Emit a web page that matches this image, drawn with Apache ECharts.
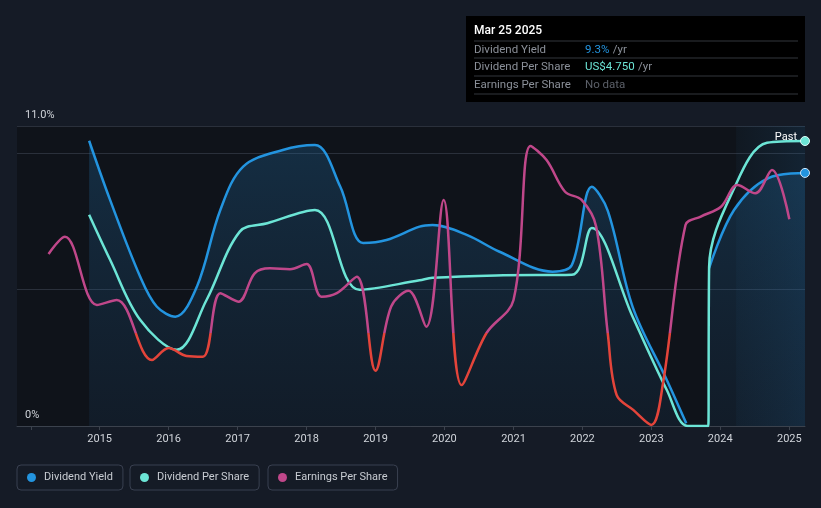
<!DOCTYPE html>
<html>
<head>
<meta charset="utf-8">
<script src="https://cdn.jsdelivr.net/npm/echarts@6/dist/echarts.min.js"></script>
<style>
html, body { margin: 0; padding: 0; background: #151b26; }
#main { width: 821px; height: 508px; }
</style>
</head>
<body>
<div id="main"></div>
<script>
// dividend yield, %
var yieldDates = ['2014-11-06', '2015-02-25', '2015-08-03', '2015-10-30', '2016-02-06', '2016-05-30',
    '2016-10-01', '2017-01-30', '2017-08-28', '2018-02-14', '2018-06-28', '2018-10-27', '2019-02-28',
    '2019-08-22', '2019-10-30', '2020-05-01', '2020-10-19', '2021-07-27', '2021-11-06', '2022-02-20',
    '2022-05-15', '2022-09-24', '2023-03-24', '2023-07-05', '2023-08-01', '2023-11-03', '2024-03-14',
    '2024-09-12', '2025-03-25'];
var yieldValues = [10.46, 8.29, 5.48, 4.38, 4.01, 5.11, 7.92, 9.51, 10.12, 10.3, 8.78, 6.71, 6.82,
    7.31, 7.37, 7.0, 6.39, 5.66, 5.9, 8.77, 7.9, 4.37, 1.69, 0.1, null, 5.79, 7.92, 9.09, 9.28];

// dividend per share, US$
var dpsDates = ['2014-11-06', '2015-02-25', '2015-08-03', '2016-02-13', '2016-07-20', '2017-01-12',
    '2017-06-07', '2018-02-14', '2018-10-08', '2019-08-22', '2019-10-30', '2020-10-01', '2021-11-06',
    '2022-02-20', '2022-09-24', '2023-03-24', '2023-07-12', '2023-10-25', '2023-10-30', '2023-11-03',
    '2024-03-10', '2024-09-05', '2025-03-25'];
var dpsValues = [3.52, 2.77, 1.77, 1.27, 2.10, 3.24, 3.38, 3.60, 2.27, 2.43, 2.47, 2.51, 2.52,
    3.30, 1.82, 0.60, 0, 0, 0, 2.65, 3.93, 4.72, 4.75];

// earnings per share (relative scale)
var epsDates = ['2014-04-05', '2014-07-01', '2014-12-17', '2015-04-01', '2015-10-05', '2016-01-01',
    '2016-04-05', '2016-07-01', '2016-10-01', '2017-01-05', '2017-04-01', '2017-06-21', '2017-10-05',
    '2018-01-01', '2018-03-21', '2018-06-10', '2018-09-24', '2019-01-01', '2019-03-25', '2019-06-25',
    '2019-09-27', '2019-12-28', '2020-04-01', '2020-08-11', '2021-01-01', '2021-04-01', '2021-06-25',
    '2021-10-01', '2021-12-28', '2022-03-15', '2022-05-15', '2022-07-01', '2022-09-27', '2023-01-01',
    '2023-03-04', '2023-07-01', '2023-09-20', '2024-01-05', '2024-04-01', '2024-07-05', '2024-10-01',
    '2025-01-01'];
var epsValues = [6.31, 6.94, 4.44, 4.62, 2.42, 2.86, 2.57, 2.54, 4.87, 4.56, 5.6, 5.78, 5.75,
    5.94, 4.74, 4.87, 5.47, 2.03, 4.38, 4.96, 3.64, 8.29, 1.5, 3.41, 4.62, 10.27, 9.75,
    8.59, 8.29, 7.31, 3.41, 1.14, 0.59, 0.04, 1.58, 7.37, 7.68, 8.04, 8.84, 8.53, 9.39,
    7.58];

var yTickLabels = { 0: '0%', 11: '11.0%' };
var firstYearLabel = 2015;

var BLUE = '#2394df';
var TEAL = '#6ce5d6';
var PINK = '#c0478a';
var RED = '#e4443a';

function pairs(dates, values) {
    return dates.map(function (d, i) { return [d, values[i]]; });
}

function endDot(data) {
    return function (v, p) { return p.dataIndex === data.length - 1 ? 9 : 0; };
}

var yieldData = pairs(yieldDates, yieldValues);
var dpsData = pairs(dpsDates, dpsValues);
var epsData = pairs(epsDates, epsValues);

var myChart = echarts.init(document.getElementById('main'));

function legendBox(left, name, color) {
    return {
        left: left,
        top: 465,
        padding: [7, 10, 7, 10],
        borderColor: '#394050',
        borderWidth: 1,
        borderRadius: 4,
        icon: 'circle',
        itemWidth: 9,
        itemHeight: 9,
        textStyle: { color: '#c8ccd2', fontSize: 11, fontFamily: 'Roboto', padding: [0, 0, 0, 3] },
        selectedMode: false,
        data: [{ name: name, itemStyle: { color: color, borderWidth: 0 } }]
    };
}

var option = {
    backgroundColor: '#151b26',
    animation: false,
    textStyle: { fontFamily: 'Roboto' },
    grid: {
        left: 17, right: 16, top: 126, bottom: 82,
        show: true, backgroundColor: '#0f131a', borderWidth: 0
    },
    legend: [
        legendBox(17, 'Dividend Yield', BLUE),
        legendBox(130, 'Dividend Per Share', TEAL),
        legendBox(268, 'Earnings Per Share', PINK)
    ],
    visualMap: {
        show: false,
        type: 'piecewise',
        seriesIndex: 2,
        dimension: 1,
        pieces: [
            { gte: -1, lt: 3.41, color: RED },
            { gte: 3.41, lte: 12, color: PINK }
        ]
    },
    xAxis: {
        type: 'time',
        min: '2013-10-20',
        max: '2025-03-25',
        minInterval: 365 * 24 * 3600 * 1000,
        maxInterval: 366 * 24 * 3600 * 1000,
        axisLine: { lineStyle: { color: '#3b424d' } },
        axisTick: { show: true, length: 4, lineStyle: { color: '#3b424d' } },
        axisLabel: {
            color: '#d0d4da', fontSize: 11, margin: 8,
            showMinLabel: false, showMaxLabel: false,
            formatter: function (v) {
                var y = new Date(v).getFullYear();
                return y < firstYearLabel ? '' : String(y);
            }
        },
        splitLine: { show: false }
    },
    yAxis: [
        {
            type: 'value',
            min: 0,
            max: 11,
            interval: 5,
            axisLine: { show: false },
            axisTick: { show: false },
            axisLabel: {
                inside: true,
                color: '#d0d4da',
                fontSize: 11,
                margin: 8,
                verticalAlign: 'bottom',
                padding: [0, 0, 5, 0],
                formatter: function (v) { return yTickLabels[v] || ''; }
            },
            splitLine: { lineStyle: { color: '#2a303b', width: 1 } }
        },
        { type: 'value', min: 0, max: 5, show: false },
        { type: 'value', min: 0, max: 11, show: false }
    ],
    series: [
        {
            name: 'Dividend Yield',
            type: 'line',
            yAxisIndex: 0,
            data: yieldData,
            smooth: 0.35,
            connectNulls: false,
            symbol: 'circle',
            symbolSize: endDot(yieldData),
            itemStyle: { color: BLUE, borderColor: '#cfe6f8', borderWidth: 1 },
            lineStyle: { color: BLUE, width: 2.5 },
            areaStyle: {
                color: new echarts.graphic.LinearGradient(0, 0, 0, 1, [
                    { offset: 0, color: 'rgba(35,120,180,0.38)' },
                    { offset: 1, color: 'rgba(35,90,140,0.18)' }
                ])
            },
            markArea: {
                silent: true,
                itemStyle: {
                    color: new echarts.graphic.LinearGradient(0, 0, 1, 0, [
                        { offset: 0, color: 'rgba(40,110,160,0.06)' },
                        { offset: 1, color: 'rgba(40,120,180,0.16)' }
                    ])
                },
                label: {
                    show: true,
                    position: 'insideTopRight',
                    distance: 6,
                    offset: [-2, 0],
                    color: '#ffffff',
                    fontSize: 11
                },
                data: [[{ xAxis: '2024-03-25', name: 'Past' }, { xAxis: '2025-03-25' }]]
            },
            z: 3
        },
        {
            name: 'Dividend Per Share',
            type: 'line',
            yAxisIndex: 1,
            data: dpsData,
            smooth: 0.35,
            symbol: 'circle',
            symbolSize: endDot(dpsData),
            itemStyle: { color: TEAL, borderColor: '#e0fbf7', borderWidth: 1 },
            lineStyle: { color: TEAL, width: 2.5 },
            z: 4
        },
        {
            name: 'Earnings Per Share',
            type: 'line',
            yAxisIndex: 2,
            data: epsData,
            smooth: 0.35,
            showSymbol: false,
            itemStyle: { color: PINK },
            lineStyle: { width: 2.5 },
            z: 5
        }
    ],
    graphic: [
        {
            type: 'group',
            left: 466,
            top: 16,
            children: [
                { type: 'rect', shape: { x: 0, y: 0, width: 339, height: 86 }, style: { fill: '#000000' } },
                { type: 'text', x: 8, y: 9, style: { text: 'Mar 25 2025', fill: '#ffffff', font: '500 12px Roboto' } },
                { type: 'line', shape: { x1: 8, y1: 25, x2: 332, y2: 25 }, style: { stroke: '#33363c', lineWidth: 1 } },
                { type: 'text', x: 8, y: 28, style: { text: 'Dividend Yield', fill: '#8b9099', font: '11.5px Roboto' } },
                { type: 'text', x: 119, y: 28, style: { text: '{a|9.3%} {b|/yr}', rich: { a: { fill: BLUE, font: '11.5px Roboto' }, b: { fill: '#8b9099', font: '11.5px Roboto' } } } },
                { type: 'line', shape: { x1: 8, y1: 42, x2: 332, y2: 42 }, style: { stroke: '#33363c', lineWidth: 1 } },
                { type: 'text', x: 8, y: 45, style: { text: 'Dividend Per Share', fill: '#8b9099', font: '11.5px Roboto' } },
                { type: 'text', x: 119, y: 45, style: { text: '{a|US$4.750} {b|/yr}', rich: { a: { fill: TEAL, font: '11.5px Roboto' }, b: { fill: '#8b9099', font: '11.5px Roboto' } } } },
                { type: 'line', shape: { x1: 8, y1: 60, x2: 332, y2: 60 }, style: { stroke: '#33363c', lineWidth: 1 } },
                { type: 'text', x: 8, y: 63, style: { text: 'Earnings Per Share', fill: '#8b9099', font: '11.5px Roboto' } },
                { type: 'text', x: 119, y: 63, style: { text: 'No data', fill: '#5c6069', font: '11.5px Roboto' } },
                { type: 'line', shape: { x1: 8, y1: 78, x2: 332, y2: 78 }, style: { stroke: '#33363c', lineWidth: 1 } }
            ]
        }
    ]
};

myChart.setOption(option);
</script>
</body>
</html>
